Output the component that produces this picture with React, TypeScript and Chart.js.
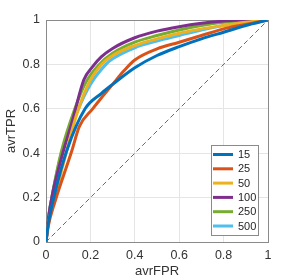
import React, { useEffect, useRef } from "react";
import { Chart, registerables } from "chart.js";

Chart.register(...registerables);

const seriesLabels = ["15", "25", "50", "100", "250", "500"];
const seriesColors = ["#0072BD", "#D95319", "#EDB120", "#7E2F8E", "#77AC30", "#4DBEEE"];

const fpr15 = [0, 0.01, 0.04, 0.093, 0.176, 0.25, 0.3, 0.4, 0.5, 0.6, 0.7, 0.8, 0.9, 1];
const tpr15 = [0, 0.08, 0.22, 0.41, 0.6, 0.67, 0.71, 0.785, 0.84, 0.88, 0.915, 0.945, 0.975, 1];

const fpr25 = [0, 0.01, 0.04, 0.116, 0.15, 0.21, 0.25, 0.3, 0.35, 0.4, 0.5, 0.6, 0.7, 0.8, 0.9, 1];
const tpr25 = [0, 0.07, 0.18, 0.41, 0.52, 0.6, 0.65, 0.71, 0.77, 0.82, 0.87, 0.9, 0.93, 0.96, 0.98, 1];

const fpr50 = [0, 0.01, 0.04, 0.08, 0.14, 0.2, 0.25, 0.3, 0.4, 0.5, 0.6, 0.7, 0.8, 0.9, 1];
const tpr50 = [0, 0.08, 0.2, 0.36, 0.58, 0.73, 0.8, 0.84, 0.885, 0.915, 0.94, 0.96, 0.975, 0.99, 1];

const fpr100 = [0, 0.01, 0.03, 0.07, 0.12, 0.17, 0.21, 0.25, 0.3, 0.4, 0.5, 0.6, 0.7, 0.8, 0.9, 1];
const tpr100 = [0, 0.1, 0.22, 0.38, 0.55, 0.73, 0.79, 0.835, 0.872, 0.92, 0.95, 0.97, 0.985, 0.995, 1, 1];

const fpr250 = [0, 0.01, 0.03, 0.07, 0.13, 0.18, 0.24, 0.3, 0.4, 0.5, 0.6, 0.7, 0.8, 0.9, 1];
const tpr250 = [0, 0.1, 0.22, 0.41, 0.6, 0.72, 0.8, 0.85, 0.9, 0.93, 0.955, 0.975, 0.99, 0.998, 1];

const fpr500 = [0, 0.01, 0.03, 0.07, 0.146, 0.2, 0.27, 0.3, 0.4, 0.5, 0.6, 0.7, 0.8, 0.9, 1];
const tpr500 = [0, 0.1, 0.22, 0.4, 0.6, 0.71, 0.8, 0.825, 0.875, 0.905, 0.93, 0.955, 0.975, 0.99, 1];

const diagX = [0, 1];
const diagY = [0, 1];

const tickValues = [0, 0.2, 0.4, 0.6, 0.8, 1];

const xs = [fpr15, fpr25, fpr50, fpr100, fpr250, fpr500];
const ys = [tpr15, tpr25, tpr50, tpr100, tpr250, tpr500];

const FONT = "'Liberation Sans', Arial, Helvetica, sans-serif";

const framePlugin = {
  id: "frame",
  beforeDatasetsDraw(chart: any) {
    const { ctx, chartArea: a } = chart;
    ctx.save();
    ctx.strokeStyle = "#8a8a8a";
    ctx.lineWidth = 1;
    ctx.strokeRect(Math.round(a.left) + 0.5, Math.round(a.top) + 0.5, a.right - a.left, a.bottom - a.top);
    ctx.restore();
  },
};

const legendPlugin = {
  id: "boxLegend",
  afterDatasetsDraw(chart: any) {
    const { ctx, chartArea: a } = chart;
    const w = 47;
    const h = 90;
    const x0 = Math.round(a.right) - 10 - w;
    const y0 = Math.round(a.bottom) - 7 - h;
    ctx.save();
    ctx.fillStyle = "#ffffff";
    ctx.fillRect(x0, y0, w, h);
    ctx.strokeStyle = "#8a8a8a";
    ctx.lineWidth = 1;
    ctx.strokeRect(x0 + 0.5, y0 + 0.5, w, h);
    ctx.font = `11px ${FONT}`;
    ctx.textBaseline = "middle";
    ctx.textAlign = "left";
    seriesLabels.forEach((lab, i) => {
      const yy = y0 + 9.5 + i * 14.3;
      ctx.strokeStyle = seriesColors[i];
      ctx.lineWidth = 3;
      ctx.beginPath();
      ctx.moveTo(x0 + 2, yy);
      ctx.lineTo(x0 + 22, yy);
      ctx.stroke();
      ctx.fillStyle = "#262626";
      ctx.fillText(lab, x0 + 27, yy + 0.5);
    });
    ctx.restore();
  },
};

export default function App() {
  const ref = useRef<HTMLCanvasElement | null>(null);
  useEffect(() => {
    document.body.style.margin = "0";
    const canvas = ref.current;
    if (!canvas) return;
    const datasets: any[] = [
      {
        label: "diag",
        data: diagX.map((x, i) => ({ x, y: diagY[i] })),
        borderColor: "#6a6a6a",
        borderWidth: 1,
        borderDash: [5, 3],
        pointRadius: 0,
        fill: false,
      },
    ];
    seriesLabels.forEach((lab, i) => {
      datasets.push({
        label: lab,
        data: xs[i].map((x, j) => ({ x, y: ys[i][j] })),
        borderColor: seriesColors[i],
        borderWidth: 3,
        pointRadius: 0,
        cubicInterpolationMode: "monotone",
        fill: false,
      });
    });
    const chart = new Chart(canvas, {
      type: "line",
      data: { datasets },
      plugins: [framePlugin, legendPlugin],
      options: {
        animation: false,
        responsive: false,
        devicePixelRatio: 1,
        layout: { padding: { top: 20, right: 25, left: 0, bottom: 0 } },
        plugins: { legend: { display: false }, tooltip: { enabled: false } },
        scales: {
          x: {
            type: "linear",
            min: 0,
            max: 1,
            afterBuildTicks: (s: any) => {
              s.ticks = tickValues.map((v) => ({ value: v }));
            },
            afterFit: (s: any) => {
              s.height = 38;
            },
            ticks: {
              padding: 6,
              color: "#333333",
              font: { family: FONT, size: 12.5 },
              maxRotation: 0,
              callback: (v: any) => String(Math.round(Number(v) * 10) / 10),
            },
            grid: { color: "#e5e5e5", drawTicks: false, tickLength: 0 },
            border: { display: false },
            title: {
              display: true,
              text: "avrFPR",
              color: "#333333",
              font: { family: FONT, size: 13 },
              padding: { top: 0, bottom: 1 },
            },
          },
          y: {
            type: "linear",
            min: 0,
            max: 1,
            afterBuildTicks: (s: any) => {
              s.ticks = tickValues.map((v) => ({ value: v }));
            },
            afterFit: (s: any) => {
              s.width = 46;
            },
            ticks: {
              padding: 6,
              color: "#333333",
              font: { family: FONT, size: 12.5 },
              callback: (v: any) => String(Math.round(Number(v) * 10) / 10),
            },
            grid: { color: "#e5e5e5", drawTicks: false, tickLength: 0 },
            border: { display: false },
            title: {
              display: true,
              text: "avrTPR",
              color: "#333333",
              font: { family: FONT, size: 13 },
              padding: { top: 4, bottom: 0 },
            },
          },
        },
      },
    } as any);
    return () => chart.destroy();
  }, []);
  return (
    <div style={{ width: 293, height: 280 }}>
      <canvas ref={ref} width={293} height={280} style={{ display: "block" }} />
    </div>
  );
}
